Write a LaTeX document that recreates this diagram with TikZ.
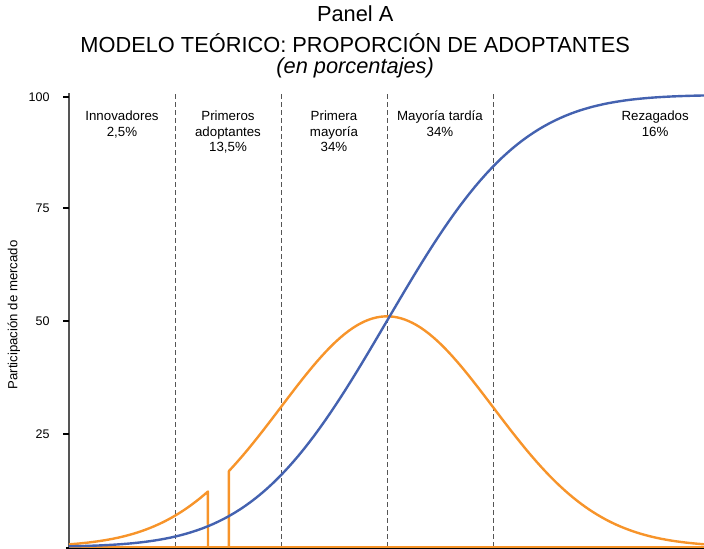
\documentclass[tikz,border=0pt]{standalone}
\usepackage{fontspec}
\setmainfont{Liberation Sans}
\definecolor{curveblue}{RGB}{68,98,176}
\definecolor{curveorange}{RGB}{247,148,42}
\definecolor{axisgray}{RGB}{85,85,85}
\begin{document}
\begin{tikzpicture}[x=106pt,y=4.52pt]
\tikzstyle{segtext} = [align=center, anchor=north, font=\fontsize{13.3}{15.5}\selectfont]
\tikzstyle{ticktext} = [anchor=east, font=\fontsize{12.5}{14}\selectfont]
\tikzstyle{divider} = [draw=axisgray, dash pattern=on 5pt off 3pt, line width=0.9pt]
\tikzstyle{tickmark} = [draw=black, line width=2pt]
\tikzstyle{bell} = [draw=curveorange, line width=2.4pt, line join=round]
\tikzstyle{scurve} = [draw=curveblue, line width=2.4pt]

\useasboundingbox (-0.651,-0.4425) rectangle (5.991,121.0);

% titles
\node[font=\fontsize{21.8}{24}\selectfont] (panel) at (2.70,117.9) {Panel A};
\node[font=\fontsize{21.8}{24}\selectfont] (title) at (2.70,111.4) {MODELO TEÓRICO: PROPORCIÓN DE ADOPTANTES};
\node[font=\fontsize{21.8}{24}\selectfont\itshape] (unit) at (2.70,106.0) {(en porcentajes)};

% dividers between groups
\draw[divider] (1,0) -- (1,100.4);
\draw[divider] (2,0) -- (2,100.4);
\draw[divider] (3,0) -- (3,100.4);
\draw[divider] (4,0) -- (4,100.4);
\draw[divider] (6,0) -- (6,100.4);

% group texts
\node[segtext] (innov) at (0.5,97.2) {Innovadores\\2,5\%};
\node[segtext] (early) at (1.5,97.2) {Primeros\\adoptantes\\13,5\%};
\node[segtext] (firstmaj) at (2.5,97.2) {Primera\\mayoría\\34\%};
\node[segtext] (latemaj) at (3.5,97.2) {Mayoría tardía\\34\%};
\node[segtext] (lagg) at (5.53,97.2) {Rezagados\\16\%};

% y axis
\draw[draw=axisgray, line width=1.6pt] (0,0) -- (0,100.4);
\draw[tickmark] (0,99.6) -- ++(-6pt,0);
\draw[tickmark] (0,75) -- ++(-6pt,0);
\draw[tickmark] (0,50) -- ++(-6pt,0);
\draw[tickmark] (0,25) -- ++(-6pt,0);
\node[ticktext] (t100) at (-0.151,99.6) {100};
\node[ticktext] (t75) at (-0.151,75) {75};
\node[ticktext] (t50) at (-0.151,50) {50};
\node[ticktext] (t25) at (-0.151,25) {25};
\node[rotate=90, font=\fontsize{13.2}{14}\selectfont] (ytitle) at (-0.519,51.3) {Participación de mercado};

% x axis
\draw[draw=black, line width=3pt] (-0.03,-0.35) -- (6,-0.35);

% adopters curve with chasm
\draw[bell] plot[domain=0:1.311, samples=60] (\x,{51*exp(-0.5*(\x-3)^2)}) -- (1.311,0);
\draw[bell] (1.509,0) -- plot[domain=1.509:6, samples=120] (\x,{51*exp(-0.5*(\x-3)^2)});
\draw[bell] (0,0) -- (6,0);

% market share
\draw[scurve] plot[domain=0:6, samples=120] (\x,{100/(1+exp(-0.07056*(\x-3)^3-1.5976*(\x-3)))});
\end{tikzpicture}
\end{document}
